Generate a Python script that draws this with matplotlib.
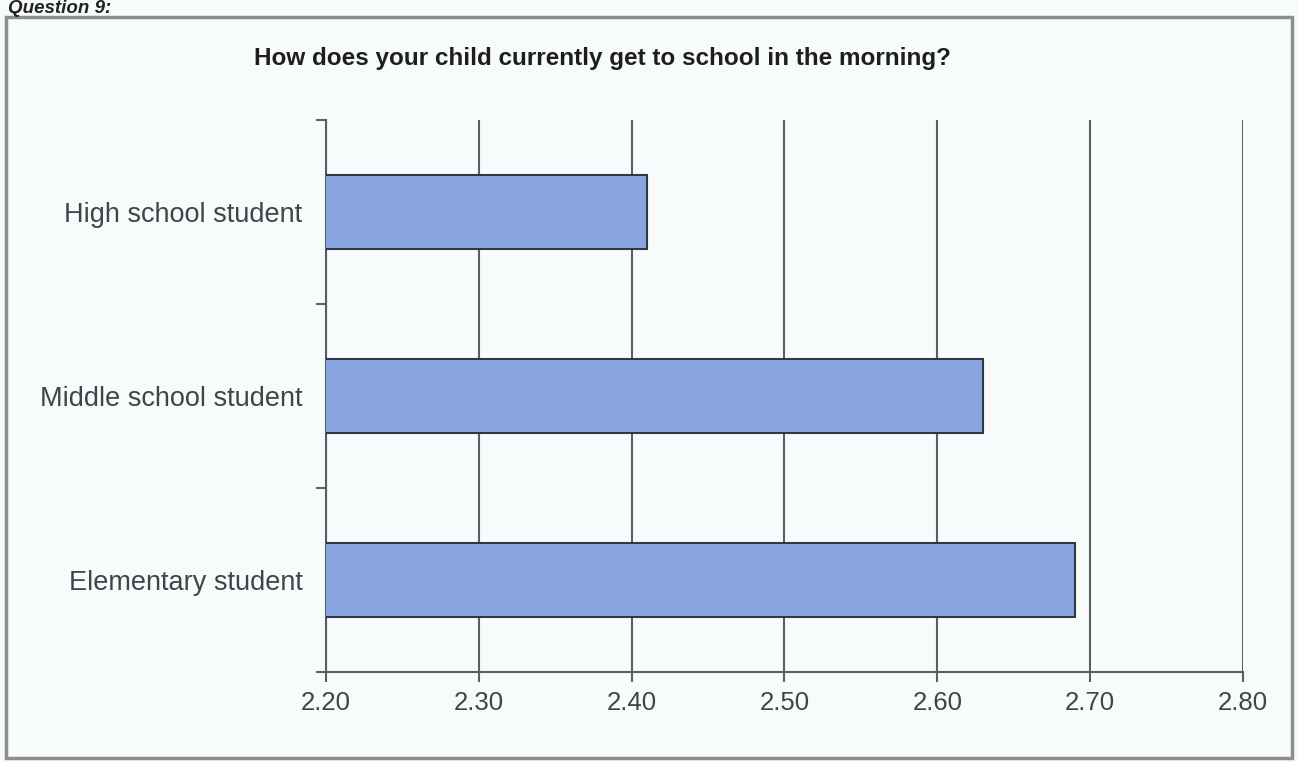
import matplotlib.pyplot as plt
from matplotlib.patches import Rectangle
from matplotlib.ticker import FixedLocator

# data
categories = ['Elementary student', 'Middle school student', 'High school student']
values = [2.69, 2.63, 2.41]
xticks = [2.20, 2.30, 2.40, 2.50, 2.60, 2.70, 2.80]

title = 'How does your child currently get to school in the morning?'
header = 'Question 9:'

bg = '#f8fbfb'
text_col = '#3b4848'
bar_col = '#8aa6e0'
edge_col = '#2c3a45'
grid_col = '#5a5f60'

plt.rcParams['font.family'] = ['Liberation Sans', 'DejaVu Sans']

fig = plt.figure(figsize=(12.99, 7.62), dpi=100, facecolor=bg)

# outer frame around the chart
fig.add_artist(Rectangle((6 / 1299, 4 / 762), 1286 / 1299, 741 / 762,
                         transform=fig.transFigure, fill=False,
                         edgecolor='#8c8f90', linewidth=2.5))
fig.text(8 / 1299, 1 - 13 / 762, header, fontsize=13.5, fontweight='bold',
         fontstyle='italic', color='#222222', va='baseline', ha='left')
fig.text(0.464, 1 - 58 / 762, title, fontsize=17.5, fontweight='bold',
         color='#1e1e1e', ha='center', va='center')

ax = fig.add_axes([326 / 1299, 90 / 762, 917 / 1299, 552 / 762])
ax.set_facecolor(bg)

pos = list(range(len(categories)))
ax.barh(pos, values, height=0.4, color=bar_col, edgecolor=edge_col,
        linewidth=1.5, zorder=3)

ax.set_xlim(2.20, 2.80)
ax.set_ylim(-0.5, len(categories) - 0.5)
ax.set_xticks(xticks)
ax.set_xticklabels(['%.2f' % v for v in xticks])
ax.set_yticks(pos)
ax.set_yticklabels(categories)
ax.yaxis.set_minor_locator(FixedLocator([p - 0.5 for p in pos] + [pos[-1] + 0.5]))

ax.grid(axis='x', color=grid_col, linewidth=1.5, zorder=1)
ax.tick_params(axis='x', length=7, width=1.5, color=grid_col, pad=7,
               labelsize=18.5, labelcolor=text_col)
ax.tick_params(axis='y', which='major', length=0, pad=17,
               labelsize=19.5, labelcolor=text_col)
ax.tick_params(axis='y', which='minor', length=7, width=1.5, color=grid_col)

for side in ['top', 'right']:
    ax.spines[side].set_visible(False)
for side in ['left', 'bottom']:
    ax.spines[side].set_color(grid_col)
    ax.spines[side].set_linewidth(1.5)

fig.savefig('out.png', dpi=100, facecolor=bg)
